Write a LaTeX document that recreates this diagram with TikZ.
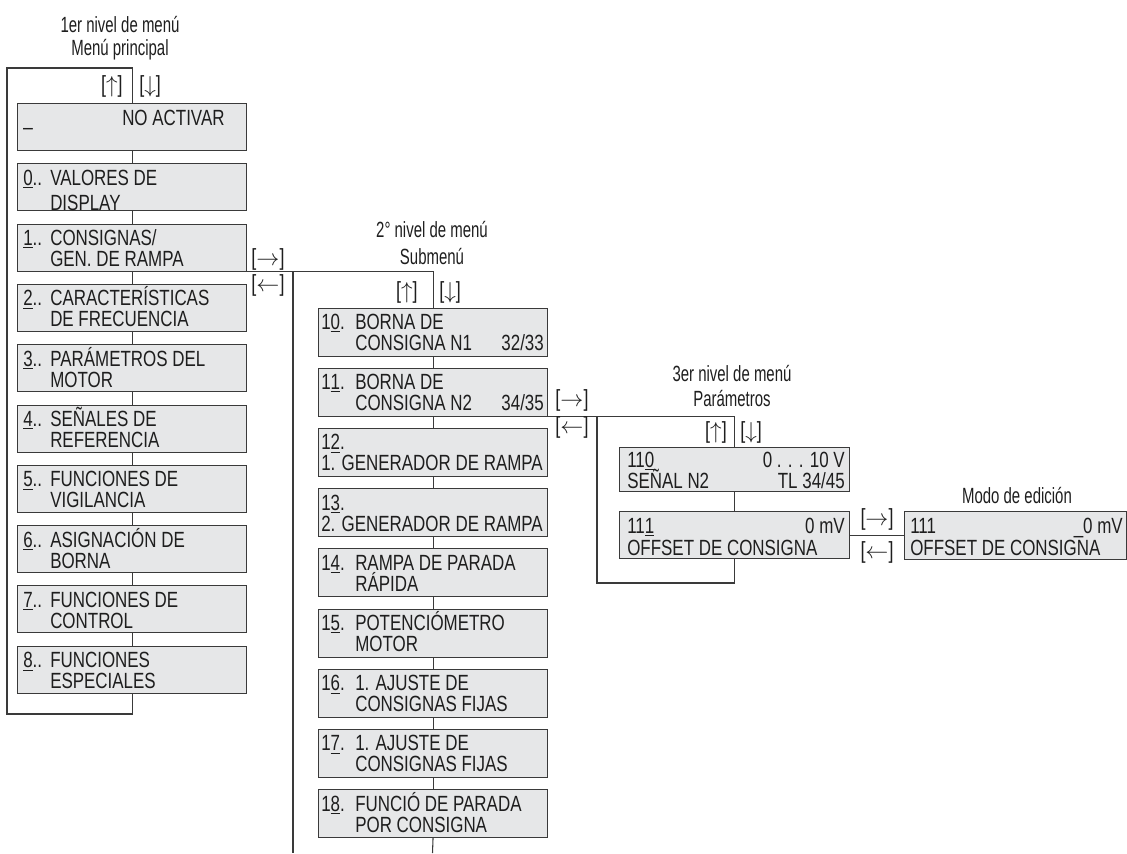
\documentclass[tikz,border=0pt]{standalone}
\usepackage{fontspec}
\setmainfont{Liberation Sans}[FakeStretch=0.77]
\newfontfamily\titlefont{Liberation Sans}[FakeStretch=0.68]
\usetikzlibrary{calc}
\definecolor{boxfill}{HTML}{E6E7E8}
\definecolor{linec}{HTML}{3A3A3A}
\definecolor{ink}{HTML}{1E1E1E}
\tikzset{
 mbox/.style={draw=linec, fill=boxfill, line width=0.8pt, inner sep=0pt, anchor=north west, minimum width=171.75pt, minimum height=35.25pt},
 txt/.style={inner sep=0pt, anchor=base west, text=ink, font=\fontsize{16.5}{19}\selectfont},
 txr/.style={txt, anchor=base east},
 ttl/.style={inner sep=0pt, anchor=base, text=ink, font=\titlefont\fontsize{16.5}{19}\selectfont},
 key/.style={inner sep=0pt, text=ink, font=\fontsize{17.5}{20}\selectfont},
 conn/.style={draw=linec, line width=0.8pt},
}
\newcommand{\colA}[5]{%
 \node[mbox] (#1) at (17,#2) {};
 \node[txt] (#1a) at ($(#1.north west)+(6,22)$) {\makebox[20.25pt][l]{\underline{#3}..}#4};
 \node[txt] (#1b) at ($(#1.north west)+(33,43)$) {#5};
}
\newcommand{\colB}[5]{%
 \node[mbox, minimum height=36pt] (#1) at (318,#2) {};
 \node[txt] (#1a) at ($(#1.north west)+(3,22)$) {\makebox[25.5pt][l]{#3}#4};
 \node[txt] (#1b) at ($(#1.north west)+(37,43)$) {#5};
}
\begin{document}
\begin{tikzpicture}[x=0.75pt,y=-0.75pt]
\useasboundingbox (0,0) rectangle (1127,853);
% titles
\node[ttl] (t1a) at (120,32) {1er nivel de menú};
\node[ttl] (t1b) at (120,55) {Menú principal};
\node[ttl] (t2a) at (432,237) {2° nivel de menú};
\node[ttl] (t2b) at (432,264) {Submenú};
\node[ttl] (t3a) at (732,381) {3er nivel de menú};
\node[ttl] (t3b) at (732,406) {Parámetros};
\node[ttl] (t4a) at (1017,503) {Modo de edición};
% column 1
\node[mbox] (bna) at (17,103) {};
\node[txt] (bnaa) at ($(bna.north west)+(6,22)$) {\_};
\node[txt] (bnab) at ($(bna.north west)+(105,22)$) {NO ACTIVAR};
\node[mbox] (b0) at (17,163.3) {};
\node[txt] (b0a) at ($(b0.north west)+(6,22)$) {\makebox[20.25pt][l]{\underline{0}..}VALORES DE};
\node[txt] (b0b) at ($(b0.north west)+(33,47)$) {DISPLAY};
\colA{b1}{223.6}{1}{CONSIGNAS/}{GEN. DE RAMPA}
\colA{b2}{283.9}{2}{CARACTERÍSTICAS}{DE FRECUENCIA}
\colA{b3}{344.2}{3}{PARÁMETROS DEL}{MOTOR}
\colA{b4}{404.5}{4}{SEÑALES DE}{REFERENCIA}
\colA{b5}{464.8}{5}{FUNCIONES DE}{VIGILANCIA}
\colA{b6}{525.1}{6}{ASIGNACIÓN DE}{BORNA}
\colA{b7}{585.4}{7}{FUNCIONES DE}{CONTROL}
\colA{b8}{645.7}{8}{FUNCIONES}{ESPECIALES}
\foreach \u/\v in {bna/b0,b0/b1,b1/b2,b2/b3,b3/b4,b4/b5,b5/b6,b6/b7,b7/b8}
  \draw[conn] (\u.south) -- (\v.north);
\coordinate (l1tl) at (7,68);
\coordinate (l1bl) at (7,714);
\draw[conn] (bna.north) |- (l1tl) -- (l1bl) -| (b8.south);
\node[key, anchor=east] (k1u) at (123,86.5) {[$\uparrow$]};
\node[key, anchor=west] (k1d) at (139,86.5) {[$\downarrow$]};
% column 2
\colB{c10}{307.5}{1\underline{0}.}{BORNA DE}{CONSIGNA N1}
\node[txr] (c10c) at ($(c10.north east)+(-4,43)$) {32/33};
\colB{c11}{367.7}{1\underline{1}.}{BORNA DE}{CONSIGNA N2}
\node[txr] (c11c) at ($(c11.north east)+(-4,43)$) {34/35};
\node[mbox, minimum height=36pt] (c12) at (318,427.9) {};
\node[txt] (c12a) at ($(c12.north west)+(3,22)$) {1\underline{2}.};
\node[txt] (c12b) at ($(c12.north west)+(3,43)$) {1. GENERADOR DE RAMPA};
\node[mbox, minimum height=36pt] (c13) at (318,488.1) {};
\node[txt] (c13a) at ($(c13.north west)+(3,22)$) {1\underline{3}.};
\node[txt] (c13b) at ($(c13.north west)+(3,43)$) {2. GENERADOR DE RAMPA};
\colB{c14}{548.3}{1\underline{4}.}{RAMPA DE PARADA}{RÁPIDA}
\colB{c15}{608.5}{1\underline{5}.}{POTENCIÓMETRO}{MOTOR}
\colB{c16}{668.7}{1\underline{6}.}{1. AJUSTE DE}{CONSIGNAS FIJAS}
\colB{c17}{728.9}{1\underline{7}.}{1. AJUSTE DE}{CONSIGNAS FIJAS}
\colB{c18}{789.1}{1\underline{8}.}{FUNCIÓ DE PARADA}{POR CONSIGNA}
\foreach \u/\v in {c10/c11,c11/c12,c12/c13,c13/c14,c14/c15,c15/c16,c16/c17,c17/c18}
  \draw[conn] (\u.south) -- (\v.north);
\draw[conn] (b1.south east) -| (c10.north);
\coordinate (r1) at (293,853);
\draw[conn] (b1.south east -| r1) -- (r1);
\coordinate (e2) at (432.5,853);
\draw[conn] (c18.south) -- (e2);
\node[key] (k1r) at (268,259) {[$\rightarrow$]};
\node[key] (k1l) at (268,285) {[$\leftarrow$]};
\node[key, anchor=east] (k2u) at (418,292) {[$\uparrow$]};
\node[key, anchor=west] (k2d) at (439,292) {[$\downarrow$]};
% column 3
\node[mbox, minimum width=172.5pt, minimum height=33pt] (p110) at (619,447) {};
\node[txt] (p110a) at (627,467) {11\underline{0}};
\node[txr] (p110b) at (845,467) {0 . . . 10 V};
\node[txt] (p110c) at (627,488) {SEÑAL N2};
\node[txr] (p110d) at (845,488) {TL 34/45};
\node[mbox, minimum width=172.5pt] (p111) at (619,511) {};
\node[txt] (p111a) at (627,533) {11\underline{1}};
\node[txr] (p111b) at (845,533) {0 mV};
\node[txt] (p111c) at (627,555) {OFFSET DE CONSIGNA};
\draw[conn] (p110.south) -- (p111.north);
\draw[conn] (c11.south east) -| (p110.north);
\coordinate (r2) at (597,583);
\draw[conn] (c11.south east -| r2) -- (r2) -| (p111.south);
\node[key] (k2r) at (572,400) {[$\rightarrow$]};
\node[key] (k2l) at (572,427) {[$\leftarrow$]};
\node[key, anchor=east] (k3u) at (727,432) {[$\uparrow$]};
\node[key, anchor=west] (k3d) at (740,432) {[$\downarrow$]};
% edit mode
\node[mbox, minimum width=166.5pt, minimum height=36pt] (ed) at (904,511) {};
\node[txt] (eda) at (910,533) {111};
\node[txr] (edb) at (1123,533) {\_0 mV};
\node[txt] (edc) at (910,555) {OFFSET DE CONSIGNA};
\draw[conn] (p111.east) -- (p111.east -| ed.west);
\node[key] (k3r) at (877,519) {[$\rightarrow$]};
\node[key] (k3l) at (877,552) {[$\leftarrow$]};
\end{tikzpicture}
\end{document}
